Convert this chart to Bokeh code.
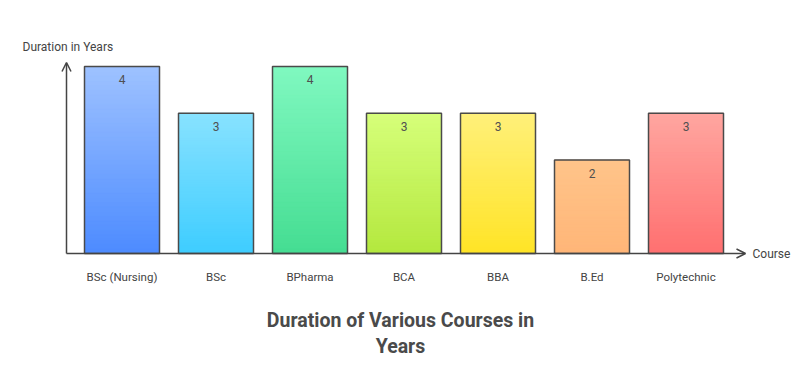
import numpy as np
from bokeh.plotting import figure
from bokeh.models import Range1d, Arrow, OpenHead
from bokeh.core.properties import value
from bokeh.embed import file_html
from bokeh.resources import INLINE

courses = ["BSc (Nursing)", "BSc", "BPharma", "BCA", "BBA", "B.Ed", "Polytechnic"]
years = [4, 3, 4, 3, 3, 2, 3]
top_colors = ["#9ec2ff", "#88e2ff", "#80f8c0", "#d6ff7a", "#fff07a", "#ffc48a", "#ffa6a0"]
bottom_colors = ["#4d8bff", "#3ecdff", "#45dd92", "#b4e83e", "#ffe426", "#ffb678", "#ff7070"]
title_text = "Duration of Various Courses in\nYears"
x_label = "Course"
y_label = "Duration in Years"

FONT = "Roboto"
W, H = 800, 370
PX_X, PX_Y = 94.0, 46.75       # pixels per unit
X0, Y0 = 121.5, 253.0          # canvas pixel of (0, 0)

p = figure(width=W, height=H, output_backend="svg", toolbar_location=None,
           x_range=Range1d(-X0 / PX_X, (W - X0) / PX_X),
           y_range=Range1d(-(H - Y0) / PX_Y, Y0 / PX_Y),
           min_border=0, border_fill_color="white", background_fill_color="white")
p.xaxis.visible = False
p.yaxis.visible = False
p.grid.visible = False
p.outline_line_color = None

def hex2rgb(h):
    h = h.lstrip("#")
    return np.array([int(h[i:i + 2], 16) for i in (0, 2, 4)], dtype=float)

# gradient bars built from slices
N = 40
ls, rs, bs, ts, cs = [], [], [], [], []
bw = 75 / PX_X
for i, (v, tc, bc) in enumerate(zip(years, top_colors, bottom_colors)):
    c_top, c_bot = hex2rgb(tc), hex2rgb(bc)
    for k in range(N):
        f = (k + 0.5) / N
        c = c_bot * (1 - f) + c_top * f
        col = "#%02x%02x%02x" % tuple(int(round(x)) for x in c)
        ls.append(i - bw / 2); rs.append(i + bw / 2)
        bs.append(v * k / N); ts.append(min(v, v * (k + 1.8) / N))
        cs.append(col)
p.quad(left=ls, right=rs, bottom=bs, top=ts, fill_color=cs, line_color=cs, line_width=0.6)

xs = list(range(len(courses)))
p.quad(left=[x - bw / 2 for x in xs], right=[x + bw / 2 for x in xs],
       bottom=0, top=years, fill_color=None, line_color="#4a4a4a", line_width=1.5)

# value labels
p.text(x=xs, y=[v - 13 / PX_Y for v in years], text=[str(v) for v in years],
       text_font=value(FONT), text_font_size="12px", text_color="#505050",
       text_align="center", text_baseline="middle")

# category labels
p.text(x=xs, y=[-23 / PX_Y] * len(xs), text=courses,
       text_font=value(FONT), text_font_size="11.5px", text_color="#444444",
       text_align="center", text_baseline="middle")

# axes with arrows
ax_x = (66 - X0) / PX_X
p.add_layout(Arrow(x_start=ax_x, y_start=0, x_end=ax_x, y_end=191 / PX_Y,
                   line_color="#444444", line_width=1.5,
                   end=OpenHead(size=9, line_color="#444444", line_width=1.5)))
p.add_layout(Arrow(x_start=ax_x, y_start=0, x_end=(745 - X0) / PX_X, y_end=0,
                   line_color="#444444", line_width=1.5,
                   end=OpenHead(size=9, line_color="#444444", line_width=1.5)))

p.text(x=[(752 - X0) / PX_X], y=[0], text=[x_label],
       text_font=value(FONT), text_font_size="12px", text_color="#444444",
       text_align="left", text_baseline="middle")
p.text(x=[(22 - X0) / PX_X], y=[(253 - 46) / PX_Y], text=[y_label],
       text_font=value(FONT), text_font_size="12px", text_color="#444444",
       text_align="left", text_baseline="middle")

# title
p.text(x=[(400 - X0) / PX_X], y=[(253 - 333) / PX_Y], text=[title_text],
       text_font=value(FONT), text_font_size="19.5px", text_font_style="bold",
       text_color="#4a4a4a", text_align="center", text_baseline="middle",
       text_line_height=1.13)

open("out.html", "w").write(file_html(p, INLINE))
